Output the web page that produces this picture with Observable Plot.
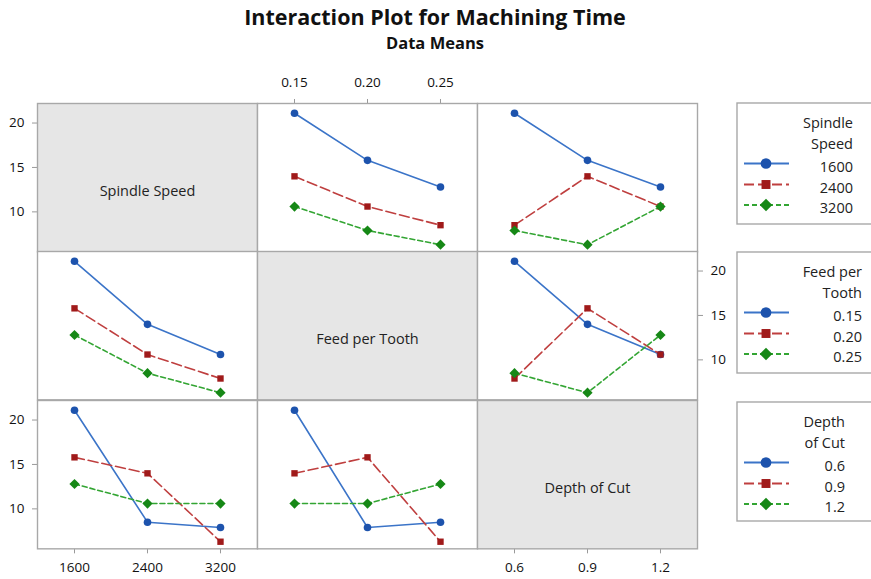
<!DOCTYPE html>
<html><head><meta charset="utf-8">
<script src="https://cdn.jsdelivr.net/npm/d3@7"></script>
<script src="https://cdn.jsdelivr.net/npm/@observablehq/plot@0.6"></script>
<style>
body{margin:0;background:#fff;}
#chart{position:relative;width:871px;height:579px;overflow:hidden;font-family:"Open Sans",sans-serif;background:#fff;}
#chart > svg, #chart > figure {position:absolute;margin:0;}
</style></head><body><div id="chart"></div>
<script>
// ---- data (L9 runs) ----
const speedLevels = [1600, 2400, 3200];
const feedLevels = [0.15, 0.20, 0.25];
const depthLevels = [0.6, 0.9, 1.2];
const runSpeed = [1600, 1600, 1600, 2400, 2400, 2400, 3200, 3200, 3200];
const runFeed  = [0.15, 0.20, 0.25, 0.15, 0.20, 0.25, 0.15, 0.20, 0.25];
const runDepth = [0.6, 0.9, 1.2, 0.9, 1.2, 0.6, 1.2, 0.6, 0.9];
const runTime  = [21.1, 15.8, 12.8, 14.0, 10.6, 8.5, 10.6, 7.9, 6.3];
const factorNames = ["Spindle Speed", "Feed per Tooth", "Depth of Cut"];
const legendTitles = [["Spindle", "Speed"], ["Feed per", "Tooth"], ["Depth", "of Cut"]];
const tickLabels = [["1600", "2400", "3200"], ["0.15", "0.20", "0.25"], ["0.6", "0.9", "1.2"]];
const yTicks = [10, 15, 20];
const titleText = "Interaction Plot for Machining Time";
const subtitleText = "Data Means";

// ---- styling ----
const levels = [speedLevels, feedLevels, depthLevels];
const runCols = [runSpeed, runFeed, runDepth];
const lineColors = ["#3b74c8", "#bf3f3f", "#33a533"];
const markColors = ["#1d53ad", "#a01a1a", "#168816"];
const dashes = [null, "10,4", "5,3"];
const symbols = ["circle", "square", "diamond2"];
const symR = [3.8, 3.6, 4.6];
const gridLeft = 37, colW = 220, gridTop = 103, rowH = 148.33;
const yDomain = [5.5, 22.2];
const frameStroke = "#a8a8a8";

const chart = document.getElementById("chart");

function seriesData(r, c, lev) {
  const out = [];
  for (let k = 0; k < runTime.length; k++) {
    if (runCols[r][k] === lev) out.push({x: runCols[c][k], y: runTime[k]});
  }
  return out.sort((a, b) => a.x - b.x);
}

function panel(r, c) {
  const m = {top: 0, right: 0, bottom: 0, left: 0};
  let xAxis = null, yAxis = null, xPad = 8;
  if (r === 0 && c === 1) { m.top = 36; xAxis = "top"; xPad = 11; }
  if (r === 2 && c !== 1) { m.bottom = 31; xAxis = "bottom"; xPad = 9; }
  if (c === 0 && r !== 1) { m.left = 37; yAxis = "left"; }
  if (r === 1 && c === 2) { m.right = 40; yAxis = "right"; }
  const lv = levels[c];
  const diag = r === c;
  const marks = [Plot.frame({fill: diag ? "#e6e6e6" : "white", stroke: frameStroke, strokeWidth: 1.4})];
  if (diag) {
    marks.push(Plot.text([factorNames[r]], {frameAnchor: "middle", dy: 14, fontSize: 14.5, fill: "#222"}));
  } else {
    levels[r].forEach((lev, i) => {
      const d = seriesData(r, c, lev);
      marks.push(Plot.line(d, {x: "x", y: "y", stroke: lineColors[i], strokeWidth: 1.6, strokeDasharray: dashes[i]}));
    });
    levels[r].forEach((lev, i) => {
      const d = seriesData(r, c, lev);
      marks.push(Plot.dot(d, {x: "x", y: "y", symbol: symbols[i], fill: markColors[i], r: symR[i], stroke: "none"}));
    });
  }
  const svg = Plot.plot({
    width: colW + m.left + m.right,
    height: rowH + m.top + m.bottom,
    marginTop: m.top, marginRight: m.right, marginBottom: m.bottom, marginLeft: m.left,
    style: {fontFamily: "Open Sans", fontSize: "13.5px", color: "#111", background: "transparent", overflow: "visible"},
    x: {type: "linear", domain: [lv[0], lv[2]], insetLeft: 37, insetRight: 37, axis: xAxis,
        ticks: lv, tickFormat: d => tickLabels[c][lv.indexOf(d)], tickSize: 5, tickPadding: xPad, label: null},
    y: {domain: yDomain, ticks: yTicks, axis: yAxis, tickSize: 5, tickPadding: 8, label: null},
    marks
  });
  svg.style.left = (gridLeft + c * colW - m.left) + "px";
  svg.style.top = (gridTop + r * rowH - m.top) + "px";
  svg.querySelectorAll('[aria-label$="axis"] line, [aria-label$="tick"] path').forEach(e => e.setAttribute("stroke", "#999"));
  chart.appendChild(svg);
}

for (let r = 0; r < 3; r++) for (let c = 0; c < 3; c++) panel(r, c);

// ---- overlay: title + legends ----
const ov = d3.select(chart).append("svg")
  .attr("width", 871).attr("height", 579)
  .style("left", "0px").style("top", "0px")
  .style("font-family", "Open Sans");
ov.append("text").attr("x", 435).attr("y", 25).attr("text-anchor", "middle")
  .attr("font-size", 21.5).attr("font-weight", "bold").attr("fill", "#111").text(titleText);
ov.append("text").attr("x", 435).attr("y", 48.5).attr("text-anchor", "middle")
  .attr("font-size", 16.5).attr("font-weight", "bold").attr("fill", "#111").text(subtitleText);

const legTops = [103, 252, 402];
const legH = [121, 121, 119];
const legRight = [853, 862, 845];
const d3sym = {circle: d3.symbolCircle, square: d3.symbolSquare, diamond2: d3.symbolDiamond2};
legTops.forEach((top, f) => {
  const g = ov.append("g");
  g.append("rect").attr("x", 737).attr("y", top).attr("width", 160).attr("height", legH[f])
    .attr("fill", "white").attr("stroke", frameStroke).attr("stroke-width", 1.4);
  const rows = [legendTitles[f][0], legendTitles[f][1]].concat(tickLabels[f]);
  const offs = [20, 41, 63.5, 84.5, 105];
  rows.forEach((t, i) => {
    g.append("text").attr("x", legRight[f]).attr("y", top + offs[i]).attr("dy", "0.35em")
      .attr("text-anchor", "end").attr("font-size", 14.5).attr("fill", "#222").text(t);
  });
  [0, 1, 2].forEach(i => {
    const y = top + offs[i + 2] - 3;
    g.append("line").attr("x1", 744).attr("x2", 789).attr("y1", y).attr("y2", y)
      .attr("stroke", lineColors[i]).attr("stroke-width", 1.8)
      .attr("stroke-dasharray", dashes[i]);
    g.append("path").attr("transform", `translate(766,${y})`)
      .attr("d", d3.symbol(d3sym[symbols[i]], [90, 80, 100][i])())
      .attr("fill", markColors[i]);
  });
});
</script></body></html>
